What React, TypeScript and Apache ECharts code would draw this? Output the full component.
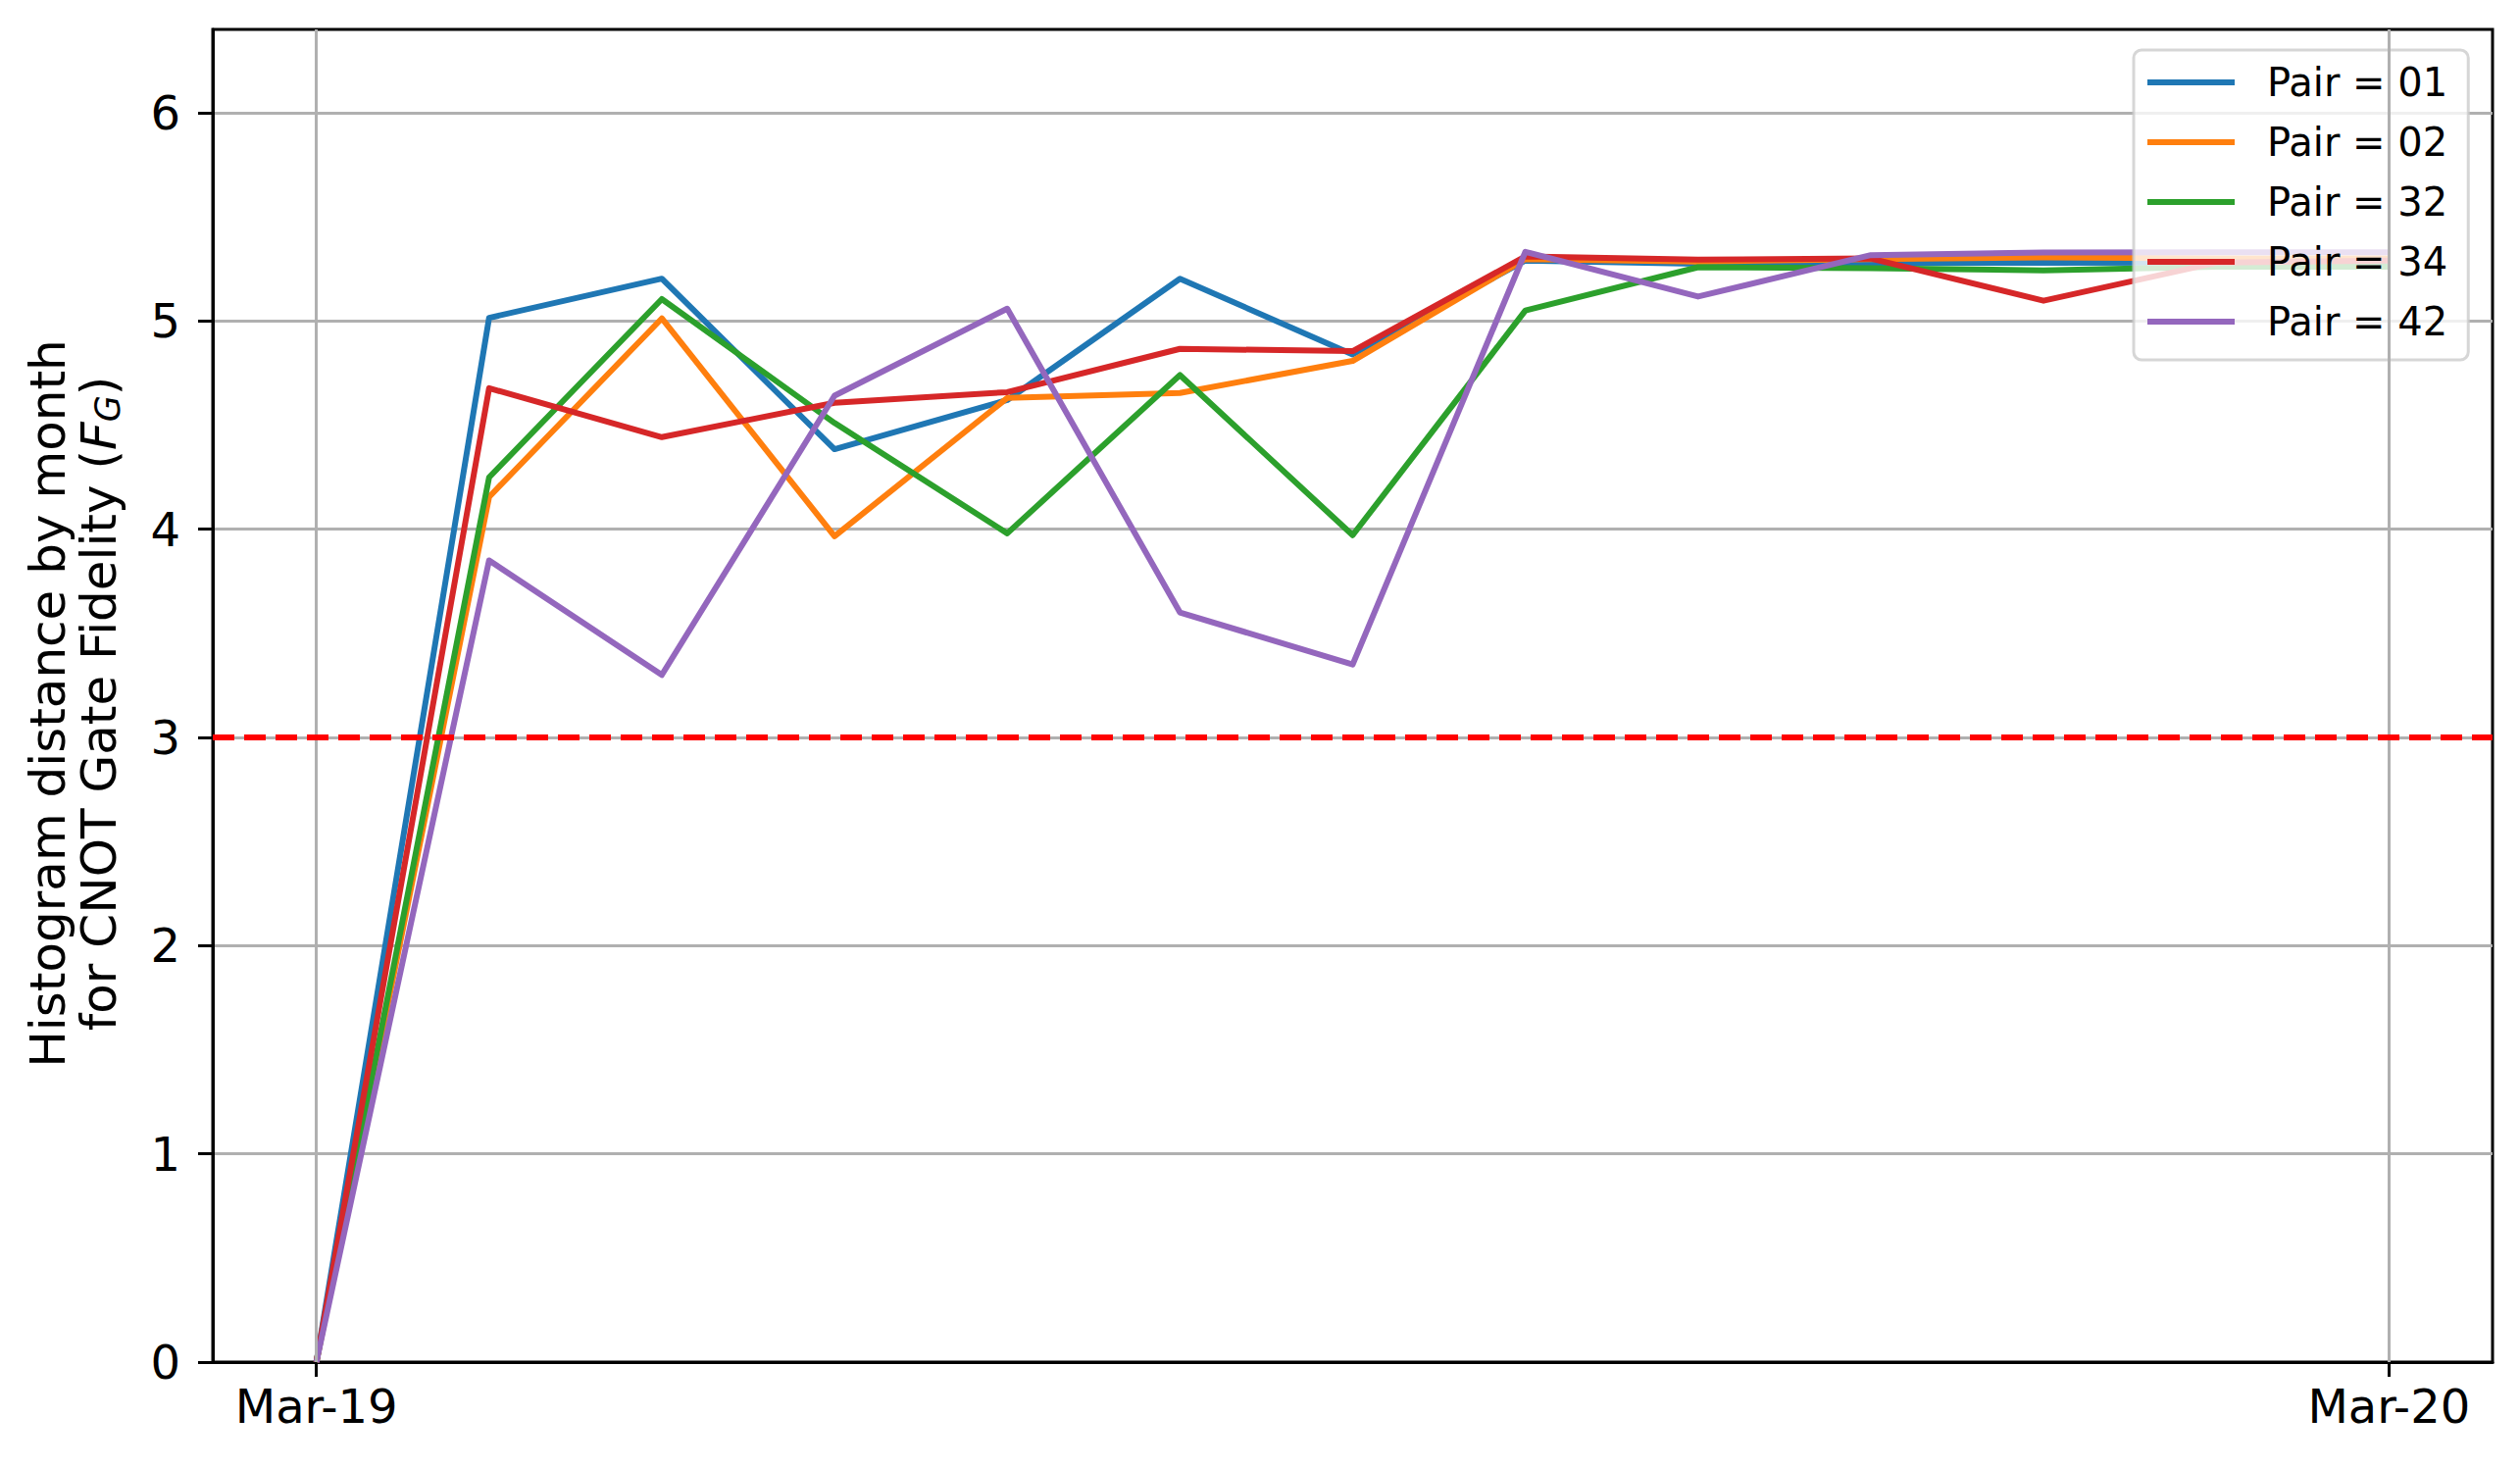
import React, { useEffect, useRef } from 'react';
import * as echarts from 'echarts';

// Month index 0 = Mar-19 ... 12 = Mar-20
const months = [0, 1, 2, 3, 4, 5, 6, 7, 8, 9, 10, 11, 12];
const xTickValues = [0, 12];
const xTickLabels = ['Mar-19', 'Mar-20'];
const yTickValues = [0, 1, 2, 3, 4, 5, 6];

const seriesNames = ['Pair = 01', 'Pair = 02', 'Pair = 32', 'Pair = 34', 'Pair = 42'];
const pair01 = [0, 5.015, 5.203, 4.384, 4.62, 5.203, 4.839, 5.29, 5.274, 5.279, 5.279, 5.28, 5.28];
const pair02 = [0, 4.155, 5.012, 3.966, 4.63, 4.654, 4.808, 5.297, 5.285, 5.297, 5.305, 5.3, 5.3];
const pair32 = [0, 4.249, 5.105, 4.51, 3.98, 4.74, 3.971, 5.05, 5.258, 5.253, 5.243, 5.26, 5.26];
const pair34 = [0, 4.677, 4.442, 4.607, 4.658, 4.866, 4.855, 5.31, 5.294, 5.3, 5.097, 5.28, 5.29];
const pair42 = [0, 3.85, 3.3, 4.641, 5.059, 3.6, 3.35, 5.332, 5.117, 5.316, 5.329, 5.33, 5.33];
const threshold = 3;

const colors = ['#1f77b4', '#ff7f0e', '#2ca02c', '#d62728', '#9467bd'];
const FONT = 'DejaVu Sans';

export default function App() {
  const ref = useRef<HTMLDivElement>(null);
  useEffect(() => {
    if (!ref.current) return;
    const chart = echarts.init(ref.current, null, { renderer: 'svg' });
    const values = [pair01, pair02, pair32, pair34, pair42];
    const lineSeries = seriesNames.map((name, i) => ({
      type: 'line',
      name,
      data: months.map((m, j) => [m, values[i][j]]),
      showSymbol: false,
      symbol: 'none',
      silent: true,
      lineStyle: { color: colors[i], width: 6, cap: 'butt', join: 'round' },
      itemStyle: { color: colors[i] },
      z: 3,
    }));
    const option: any = {
      animation: false,
      backgroundColor: '#ffffff',
      grid: {
        left: 217,
        right: 28,
        top: 30,
        bottom: 107,
        show: true,
        borderColor: '#000000',
        borderWidth: 3,
        backgroundColor: 'transparent',
      },
      legend: {
        orient: 'vertical',
        left: 2176,
        top: 51,
        data: seriesNames,
        icon: 'rect',
        itemWidth: 89,
        itemHeight: 6,
        itemGap: 17,
        padding: [11, 21, 17, 14],
        selectedMode: false,
        backgroundColor: 'rgba(255,255,255,0.8)',
        borderColor: 'rgba(204,204,204,0.8)',
        borderWidth: 3,
        borderRadius: 8,
        textStyle: {
          fontFamily: FONT,
          fontSize: 40,
          color: '#000000',
          lineHeight: 44,
          padding: [0, 0, 0, 28],
        },
      },
      xAxis: {
        type: 'value',
        min: -0.6,
        max: 12.6,
        axisLine: { show: true, onZero: false, lineStyle: { color: '#000000', width: 3 } },
        axisTick: { show: true, length: 15, customValues: xTickValues, lineStyle: { color: '#000000', width: 3 } },
        axisLabel: {
          show: true,
          customValues: xTickValues,
          margin: 21,
          fontFamily: FONT,
          fontSize: 48,
          color: '#000000',
          formatter: (v: number) => xTickLabels[xTickValues.indexOf(v)] ?? '',
        },
        splitLine: { show: false },
      },
      yAxis: {
        type: 'value',
        min: 0,
        max: 6.4,
        interval: 1,
        name: 'Histogram distance by month\nfor CNOT Gate Fidelity ({it|F}{sub|G})',
        nameLocation: 'middle',
        nameRotate: 90,
        nameGap: 90,
        nameTextStyle: {
          fontFamily: FONT,
          fontSize: 50,
          lineHeight: 52,
          color: '#000000',
          padding: [0, 16, 0, 0],
          rich: {
            it: { fontFamily: FONT, fontStyle: 'italic', fontSize: 50, lineHeight: 52, color: '#000000' },
            sub: { fontFamily: FONT, fontStyle: 'italic', fontSize: 35, lineHeight: 32, verticalAlign: 'bottom', color: '#000000' },
          },
        },
        axisLine: { show: true, onZero: false, lineStyle: { color: '#000000', width: 3 } },
        axisTick: { show: true, length: 15, customValues: yTickValues, lineStyle: { color: '#000000', width: 3 } },
        axisLabel: {
          show: true,
          customValues: yTickValues,
          margin: 33,
          fontFamily: FONT,
          fontSize: 48,
          color: '#000000',
        },
        splitLine: { show: true, lineStyle: { color: '#b0b0b0', width: 3 } },
      },
      series: [
        {
          type: 'line',
          name: '__vgrid',
          data: [],
          z: 1,
          silent: true,
          markLine: {
            silent: true,
            symbol: 'none',
            label: { show: false },
            emphasis: { disabled: true },
            lineStyle: { color: '#b0b0b0', width: 3, type: 'solid' },
            data: xTickValues.map((v) => ({ xAxis: v })),
          },
        },
        ...lineSeries,
        {
          type: 'line',
          name: '__threshold',
          data: [],
          z: 4,
          silent: true,
          markLine: {
            silent: true,
            symbol: 'none',
            label: { show: false },
            emphasis: { disabled: true },
            lineStyle: { color: '#ff0000', width: 6, type: [22, 10] },
            data: [{ yAxis: threshold }],
          },
        },
      ],
    };
    chart.setOption(option);
    return () => chart.dispose();
  }, []);
  return (
    <div
      ref={ref}
      style={{ position: 'absolute', left: 0, top: 0, width: 2570, height: 1496, background: '#ffffff' }}
    />
  );
}
